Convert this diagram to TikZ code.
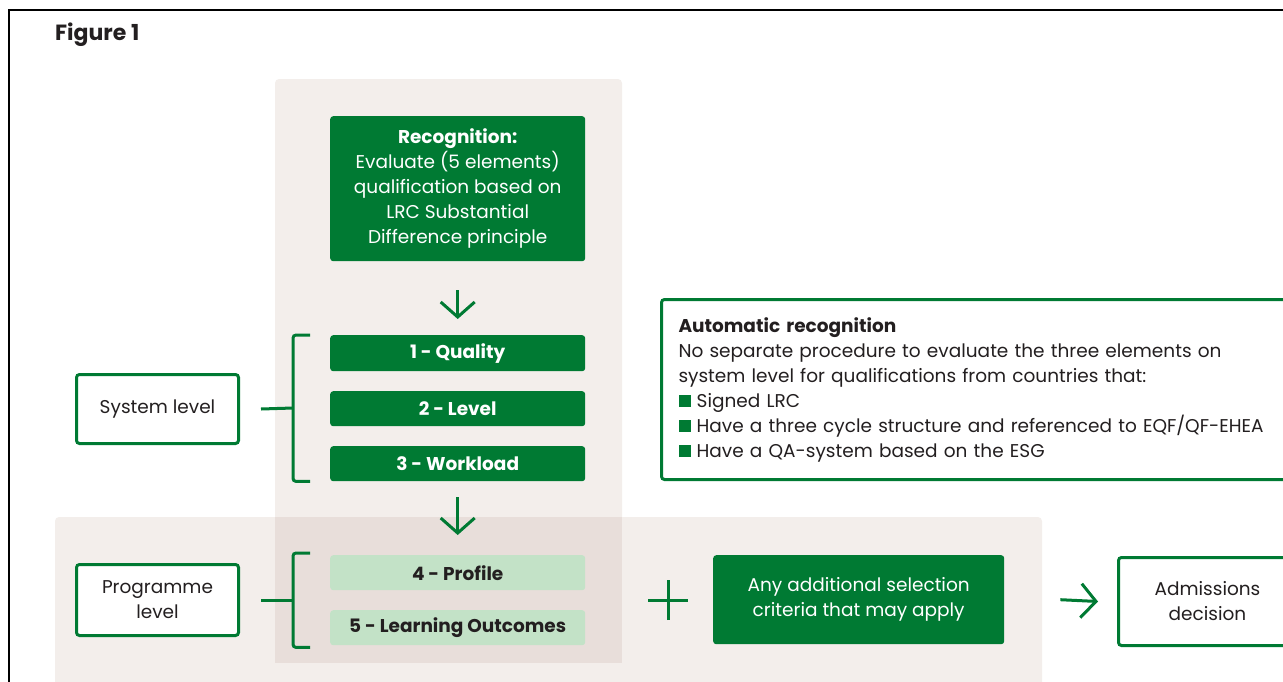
\documentclass[tikz,border=0pt]{standalone}
\usepackage{fontspec}
\setmainfont{Poppins}
\usetikzlibrary{arrows.meta}
\definecolor{dg}{RGB}{0,122,51}
\definecolor{lg}{RGB}{195,226,199}
\definecolor{bgl}{RGB}{243,238,235}
\definecolor{bgd}{RGB}{232,222,218}
\definecolor{tx}{RGB}{35,31,32}
\newcommand\fsz{\fontsize{18.5}{25}\selectfont}
\begin{document}
\begin{tikzpicture}[x=1pt,y=-1pt,
  darkbox/.style={fill=dg, text=white, rounded corners=3pt, inner sep=0pt, align=center, font=\fsz, anchor=north west},
  lightbox/.style={fill=lg, text=tx, rounded corners=3pt, inner sep=0pt, align=center, font=\fsz\bfseries, anchor=north west},
  outbox/.style={draw=dg, line width=3pt, fill=white, text=tx, rounded corners=3pt, inner sep=0pt, align=center, font=\fsz, anchor=north west},
  conn/.style={draw=dg, line width=3pt},
  brk/.style={draw=dg, line width=3pt, rounded corners=3pt},
  arr/.style={draw=dg, line width=3pt, -{Straight Barb[length=15pt,width=34pt,line width=3pt]}},
  panel/.style={rounded corners=4pt}]
\useasboundingbox (0,0) rectangle (1283,681);
\clip (0,0) rectangle (1283,681);
% frame
\draw[line width=2pt, black] (9,700) -- (9,10) -- (1300,10);
\node[anchor=west, font=\fontsize{22}{26}\selectfont\bfseries, text=tx, inner sep=0pt] (fig) at (55,35) {Figure 1};
% panels
\fill[bgl, panel] (55,517) rectangle (1042,700);
\fill[bgl, panel] (275,79) rectangle (622,663);
\fill[bgd] (275,517) rectangle (622,663);
% recognition
\node[darkbox, minimum width=255, minimum height=145] (rec) at (330,116)
  {\textbf{Recognition:}\\Evaluate (5 elements)\\qualification based on\\LRC Substantial\\Difference principle};
% system level elements
\node[darkbox, font=\fsz\bfseries, minimum width=255, minimum height=36] (q1) at (330,335) {1 - Quality};
\node[darkbox, font=\fsz\bfseries, minimum width=255, minimum height=35] (q2) at (330,391) {2 - Level};
\node[darkbox, font=\fsz\bfseries, minimum width=255, minimum height=35] (q3) at (330,446) {3 - Workload};
\node[outbox, minimum width=162, minimum height=69] (sys) at (75,373) {System level};
% programme level
\node[lightbox, minimum width=255, minimum height=35] (p4) at (330,555) {4 - Profile};
\node[lightbox, minimum width=255, minimum height=35] (p5) at (330,610) {5 - Learning Outcomes};
\node[outbox, minimum width=162, minimum height=71] (prog) at (75,563) {Programme\\level};
% additional + admissions
\node[darkbox, minimum width=291, minimum height=89] (add) at (713,555) {Any additional selection\\criteria that may apply};
\node[outbox, minimum width=178, minimum height=88] (adm) at (1117,556) {Admissions\\decision};
% automatic recognition
\node[outbox, align=left, anchor=north west, minimum width=640, minimum height=180, text width=606, inner xsep=17pt] (auto) at (660,298)
  {\textbf{Automatic recognition}\\
   No separate procedure to evaluate the three elements on\\
   system level for qualifications from countries that:\\
   \textcolor{dg}{\rule{12pt}{12pt}} Signed LRC\\
   \textcolor{dg}{\rule{12pt}{12pt}} Have a three cycle structure and referenced to EQF/QF-EHEA\\
   \textcolor{dg}{\rule{12pt}{12pt}} Have a QA-system based on the ESG};
% arrows
\draw[arr] ([yshift=-29pt]rec.south) -- ([yshift=16pt]q1.north);
\draw[arr] ([yshift=-16pt]q3.south) -- ([yshift=20pt]p4.north);
\draw[arr] ([xshift=56pt]add.east) -- ([xshift=-19pt]adm.west);
% brackets
\coordinate (b1) at (293,408);
\draw[brk] ([xshift=-20pt]q1.north west) -- ([xshift=-37pt]q1.north west) -- ([xshift=-37pt]q3.south west) -- ([xshift=-20pt]q3.south west);
\draw[conn] ([xshift=21pt]sys.east) -- (b1);
\coordinate (b2) at (293,600);
\draw[brk] ([xshift=-20pt,yshift=2pt]p4.north west) -- ([xshift=-37pt,yshift=2pt]p4.north west) -- ([xshift=-37pt,yshift=-2pt]p5.south west) -- ([xshift=-20pt,yshift=-2pt]p5.south west);
\draw[conn] ([xshift=21pt]prog.east) -- (b2);
% plus
\coordinate (plus) at (668,600);
\draw[conn] ([xshift=-20pt]plus) -- ([xshift=20pt]plus);
\draw[conn] ([yshift=-20pt]plus) -- ([yshift=20pt]plus);
\end{tikzpicture}
\end{document}
